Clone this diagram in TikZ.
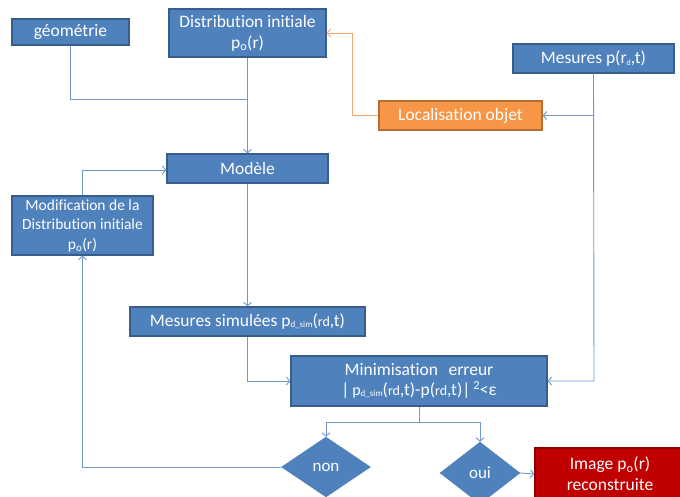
\documentclass[tikz,border=0pt]{standalone}
\usepackage{fontspec}
\setmainfont{Carlito}[Ligatures=NoCommon]
\usetikzlibrary{shapes.geometric,arrows.meta}
\definecolor{bfill}{HTML}{4F81BD}
\definecolor{bdraw}{HTML}{385D8A}
\definecolor{lblue}{HTML}{7098D0}
\definecolor{ofill}{HTML}{F79646}
\definecolor{odraw}{HTML}{B66D31}
\definecolor{oline}{HTML}{F5A66C}
\definecolor{rfill}{HTML}{C00000}
\definecolor{rdraw}{HTML}{8C0000}
\newcommand{\fs}[1]{\fontsize{#1}{#1}\selectfont}
\begin{document}
\begin{tikzpicture}[x=1pt,y=-1pt,
  bx/.style={rectangle,fill=bfill,draw=bdraw,line width=1.2pt,text=white,inner sep=0pt,align=center,
    font=\fontsize{17.5}{21}\selectfont},
  obx/.style={bx,fill=ofill,draw=odraw},
  rbx/.style={bx,fill=rfill,draw=rdraw},
  dia/.style={diamond,fill=bfill,draw=bfill,text=white,inner sep=0pt,aspect=1.5,
    font=\fontsize{17}{20}\selectfont},
  ln/.style={draw=lblue,line width=0.9pt},
  arr/.style={ln,-{Straight Barb[length=3.5pt,width=8pt]}},
  oarr/.style={draw=oline,line width=0.9pt,-{Straight Barb[length=3.5pt,width=8pt]}}]
\useasboundingbox (0,0) rectangle (680,496);
\clip (0,0) rectangle (680,496);
\node[bx,minimum width=117,minimum height=26] (geom) at (70.5,32) {géométrie};
\node[bx,minimum width=157,minimum height=48] (dist) at (247.5,33) {Distribution initiale\\p\textsubscript{o}(r)};
\node[bx,minimum width=161,minimum height=29] (model) at (247.5,168.5) {Modèle};
\node[bx,minimum width=161,minimum height=29] (mes) at (593.5,58.5) {Mesures p(r{\raisebox{-2pt}{\fs{8}d}},t)};
\node[obx,minimum width=163,minimum height=29] (loc) at (460.5,115.5) {Localisation objet};
\node[bx,minimum width=141,minimum height=59,font=\fontsize{15.5}{19.5}\selectfont] (modif) at (82.5,225.5) {Modification de la\\Distribution initiale\\p\textsubscript{o}(r)};
\node[bx,minimum width=235,minimum height=29] (sim) at (247.5,321.5) {Mesures simulées p{\raisebox{-1pt}{\fs{9}d\_sim}}({\fs{14}rd},t)};
\node[bx,minimum width=256,minimum height=50,font=\fontsize{17.5}{20}\selectfont] (mini) at (419,381) {Minimisation\hspace{0.6em}erreur\\|\,{\fs{16}p}{\raisebox{-1pt}{\fs{9}d\_sim}}({\fs{14}rd},t)-p({\fs{14}rd},t)|\,\textsuperscript{2}<ε};
\node[dia,minimum width=89,minimum height=60] (non) at (326,467) {non};
\node[dia,minimum width=80,minimum height=62] (oui) at (480,473) {oui};
\node[rbx,minimum width=150,minimum height=52] (img) at (610,474) {Image p\textsubscript{o}(r)\\reconstruite};
\coordinate (j1) at (247.5,99);
\coordinate (j2) at (594,115.5);
\coordinate (j3) at (594,381);
\coordinate (o1) at (352,115.5);
\coordinate (s1) at (419,422);
% connectors
\draw[ln] (geom.south) |- (j1);
\draw[arr] (dist.south) -- (model.north);
\draw[oarr] (loc.west) -- (o1) |- (dist.east);
\draw[arr] (mes.south) -- (j3) -- (mini.east);
\draw[arr] (j2) -- (loc.east);
\draw[arr] (modif.north) |- ([yshift=-1.5]model.west);
\draw[arr] (model.south) -- (sim.north);
\draw[arr] (sim.south) |- (mini.west);
\draw[ln] (mini.south) -- (s1);
\draw[arr] (s1) -| (non.north);
\draw[arr] (s1) -| (oui.north);
\draw[arr] (non.west) -| (modif.south);
\draw[arr] (oui.east) -- (img.west);
\end{tikzpicture}
\end{document}
